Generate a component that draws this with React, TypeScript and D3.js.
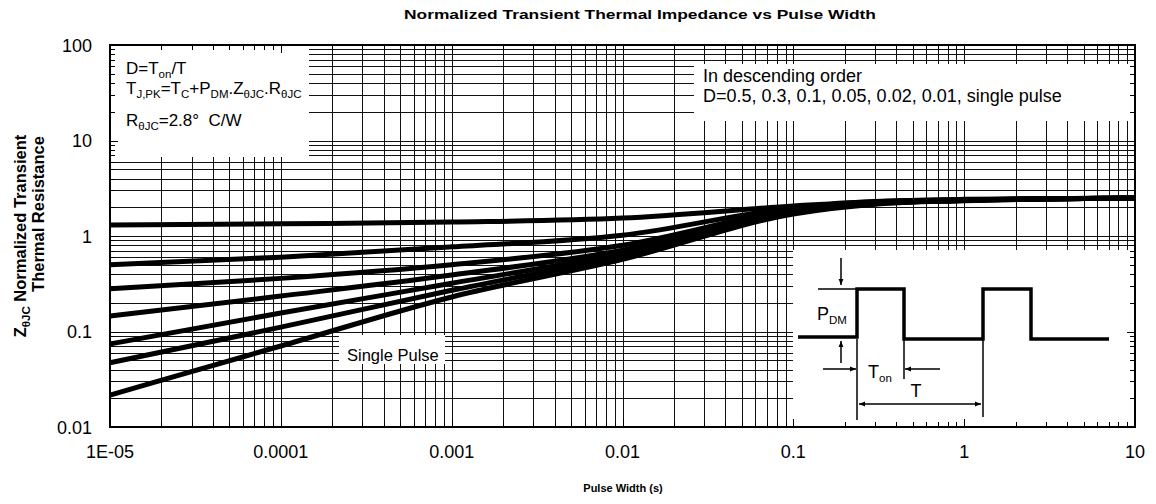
import * as d3 from "d3";
import React from "react";

// pulse widths (s) where the curves were read
const pulseWidth = [1e-5, 1e-4, 1e-3, 1e-2, 0.1, 0.3, 1, 10];
const dutyLabels = ["0.5", "0.3", "0.1", "0.05", "0.02", "0.01", "single"];
const zD05 = [1.3, 1.34, 1.4, 1.54, 2.06, 2.3, 2.42, 2.5];
const zD03 = [0.5, 0.6, 0.77, 1.02, 1.97, 2.28, 2.4, 2.5];
const zD01 = [0.28, 0.36, 0.5, 0.8, 1.87, 2.25, 2.39, 2.5];
const zD005 = [0.145, 0.235, 0.39, 0.71, 1.83, 2.22, 2.37, 2.5];
const zD002 = [0.074, 0.156, 0.32, 0.66, 1.78, 2.2, 2.36, 2.5];
const zD001 = [0.047, 0.111, 0.27, 0.62, 1.74, 2.18, 2.35, 2.5];
const zSingle = [0.0216, 0.0705, 0.23, 0.57, 1.7, 2.15, 2.34, 2.5];
const series = [zD05, zD03, zD01, zD005, zD002, zD001, zSingle];

const xTicks = [1e-5, 1e-4, 1e-3, 1e-2, 0.1, 1, 10];
const xTickLabels = ["1E-05", "0.0001", "0.001", "0.01", "0.1", "1", "10"];
const yTicks = [0.01, 0.1, 1, 10, 100];
const yTickLabels = ["0.01", "0.1", "1", "10", "100"];

const font = "Arial, 'Liberation Sans', sans-serif";

type Seg = { t: string; sub?: boolean };

function Rich({ x, y, segs, size = 17, sub = 11.5, anchor = "start" }: { x: number; y: number; segs: Seg[]; size?: number; sub?: number; anchor?: string }) {
  let low = false;
  return (
    <text x={x} y={y} fontSize={size} fontFamily={font} textAnchor={anchor} style={{ whiteSpace: "pre" }}>
      {segs.map((s, i) => {
        let dy = 0;
        if (s.sub && !low) { dy = 4; low = true; }
        else if (!s.sub && low) { dy = -4; low = false; }
        return (
          <tspan key={i} dy={dy} fontSize={s.sub ? sub : size}>{s.t}</tspan>
        );
      })}
    </text>
  );
}

function Arrow({ x1, y1, x2, y2 }: { x1: number; y1: number; x2: number; y2: number }) {
  return <line x1={x1} y1={y1} x2={x2} y2={y2} stroke="#000" strokeWidth={1.5} markerEnd="url(#ah)" />;
}

export default function App() {
  const width = 1156;
  const height = 504;
  const left = 110, right = 1135, top = 45, bottom = 427;

  const x = d3.scaleLog().domain([1e-5, 10]).range([left, right]);
  const y = d3.scaleLog().domain([0.01, 100]).range([bottom, top]);

  const xMinor: number[] = [];
  for (let e = -5; e < 1; e++) for (let m = 1; m < 10; m++) xMinor.push(m * Math.pow(10, e));
  xMinor.push(10);
  const yMinor: number[] = [];
  for (let e = -2; e < 2; e++) for (let m = 1; m < 10; m++) yMinor.push(m * Math.pow(10, e));
  yMinor.push(100);

  const line = d3.line<number>()
    .x((_, i) => x(pulseWidth[i]))
    .y((d) => y(d))
    .curve(d3.curveMonotoneX);

  const isMajor = (v: number) => Math.abs(Math.log10(v) - Math.round(Math.log10(v))) < 1e-6;

  return (
    <svg width={width} height={height} style={{ position: "absolute", left: 0, top: 0, background: "#fff" }}>
      <defs>
        <marker id="ah" viewBox="0 0 10 10" refX="10" refY="5" markerWidth="6" markerHeight="6" orient="auto-start-reverse" markerUnits="userSpaceOnUse">
          <path d="M0,1 L10,5 L0,9 Z" fill="#000" />
        </marker>
      </defs>

      <text x={404} y={19} fontSize={13} fontWeight="bold" fontFamily={font} textLength={472} lengthAdjust="spacingAndGlyphs">
        Normalized Transient Thermal Impedance vs Pulse Width
      </text>

      {/* grid */}
      <g stroke="#111" strokeWidth={1}>
        {xMinor.map((v, i) => (
          <line key={"gx" + i} x1={Math.round(x(v)) + 0.5} x2={Math.round(x(v)) + 0.5} y1={top} y2={bottom} />
        ))}
        {yMinor.map((v, i) => (
          <line key={"gy" + i} y1={Math.round(y(v)) + 0.5} y2={Math.round(y(v)) + 0.5} x1={left} x2={right} />
        ))}
      </g>

      {/* curves */}
      <g fill="none" stroke="#000" strokeWidth={5}>
        {series.map((s, i) => (
          <path key={dutyLabels[i]} d={line(s) || ""} />
        ))}
      </g>

      {/* annotation boxes */}
      <rect x={left + 1} y={top + 1} width={198} height={111} fill="#fff" />
      <rect x={694} y={64} width={right - 694 - 1} height={57} fill="#fff" />
      <rect x={339} y={335} width={106} height={29} fill="#fff" />
      <rect x={793} y={250} width={right - 793 - 1} height={bottom - 250 - 1} fill="#fff" />

      {/* inside ticks */}
      <g stroke="#000" strokeWidth={1}>
        {xMinor.map((v, i) => {
          const len = isMajor(v) ? 8 : 5;
          const px = Math.round(x(v)) + 0.5;
          return (
            <g key={"tx" + i}>
              <line x1={px} x2={px} y1={bottom} y2={bottom - len} />
              <line x1={px} x2={px} y1={top} y2={top + len} />
            </g>
          );
        })}
        {yMinor.map((v, i) => {
          const len = isMajor(v) ? 8 : 5;
          const py = Math.round(y(v)) + 0.5;
          return (
            <g key={"ty" + i}>
              <line y1={py} y2={py} x1={left} x2={left + len} />
              <line y1={py} y2={py} x1={right} x2={right - len} />
            </g>
          );
        })}
      </g>

      <rect x={left} y={top} width={right - left} height={bottom - top} fill="none" stroke="#000" strokeWidth={2} />

      {/* tick labels */}
      <g fontSize={18} fontFamily={font}>
        {xTicks.map((v, i) => (
          <text key={"xl" + i} x={x(v)} y={458} textAnchor="middle">{xTickLabels[i]}</text>
        ))}
        {yTicks.map((v, i) => (
          <text key={"yl" + i} x={92} y={y(v) + 6.5} textAnchor="end">{yTickLabels[i]}</text>
        ))}
      </g>

      <text x={623} y={492} textAnchor="middle" fontSize={11} fontWeight="bold" fontFamily={font}>Pulse Width (s)</text>

      <g transform="translate(26,236) rotate(-90)">
        <text x={0} y={0} textAnchor="middle" fontSize={16.5} fontWeight="bold" fontFamily={font}>
          <tspan>Z</tspan>
          <tspan fontSize={11.5} dy={4}>θJC</tspan>
          <tspan dy={-4}> Normalized Transient</tspan>
        </text>
      </g>
      <g transform="translate(44,214) rotate(-90)">
        <text x={0} y={0} textAnchor="middle" fontSize={16.5} fontWeight="bold" fontFamily={font}>Thermal Resistance</text>
      </g>

      {/* text box */}
      <Rich x={126} y={74} segs={[{ t: "D=T" }, { t: "on", sub: true }, { t: "/T" }]} />
      <Rich x={126} y={94} segs={[
        { t: "T" }, { t: "J,PK", sub: true }, { t: "=T" }, { t: "C", sub: true }, { t: "+P" }, { t: "DM", sub: true },
        { t: "." }, { t: "Z" }, { t: "θJC", sub: true }, { t: ".R" }, { t: "θJC", sub: true },
      ]} />
      <Rich x={126} y={126} segs={[{ t: "R" }, { t: "θJC", sub: true }, { t: "=2.8°\u00a0\u00a0C/W" }]} />

      <text x={703} y={82} fontSize={18} fontFamily={font}>In descending order</text>
      <text x={703} y={102} fontSize={18} fontFamily={font}>D=0.5, 0.3, 0.1, 0.05, 0.02, 0.01, single pulse</text>

      <text x={347} y={361} fontSize={16.5} fontFamily={font}>Single Pulse</text>

      {/* pulse diagram */}
      <g fill="none" stroke="#000">
        <path d="M798,337 H857 V289 H904 V339 H983 V289 H1031 V339 H1109" strokeWidth={3.5} />
        <line x1={818} x2={857} y1={289} y2={289} strokeWidth={1.5} />
        <line x1={857} x2={857} y1={339} y2={420} strokeWidth={1.5} />
        <line x1={904} x2={904} y1={339} y2={379} strokeWidth={1.5} />
        <line x1={983} x2={983} y1={339} y2={417} strokeWidth={1.5} />
      </g>
      <Arrow x1={841} y1={258} x2={841} y2={285} />
      <Arrow x1={841} y1={363} x2={841} y2={341} />
      <Arrow x1={823} y1={369} x2={856} y2={369} />
      <Arrow x1={940} y1={369} x2={905} y2={369} />
      <line x1={859} y1={404} x2={981} y2={404} stroke="#000" strokeWidth={1.5} markerEnd="url(#ah)" markerStart="url(#ah)" />
      <Rich x={817} y={320} segs={[{ t: "P" }, { t: "DM", sub: true }]} size={18} />
      <Rich x={868} y={378} segs={[{ t: "T" }, { t: "on", sub: true }]} size={18} />
      <text x={916} y={397} textAnchor="middle" fontSize={18} fontFamily={font}>T</text>
    </svg>
  );
}
